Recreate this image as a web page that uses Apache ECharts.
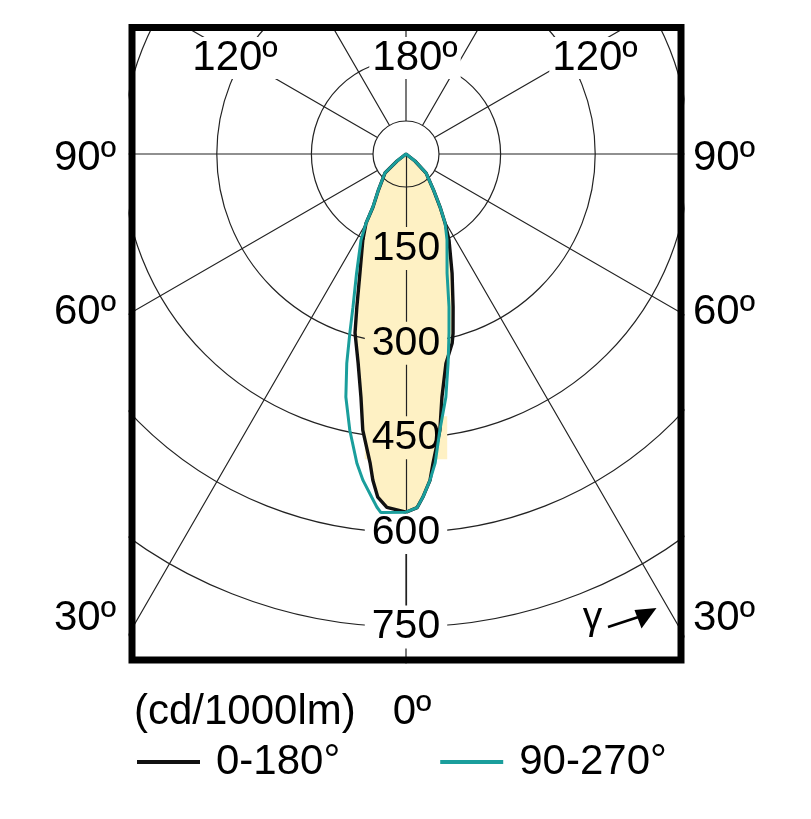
<!DOCTYPE html>
<html>
<head>
<meta charset="utf-8">
<script src="https://cdn.jsdelivr.net/npm/echarts@6/dist/echarts.min.js"></script>
<style>
  html, body { margin: 0; padding: 0; background: #fff; }
  #chart { width: 811px; height: 819px; }
</style>
</head>
<body>
<div id="chart"></div>
<script>
// C0-C180 plane (black), angle in degrees from nadir, value in cd/1000lm
const c0Angle = [0, 1.8, 2.8, 4.2, 5, 7, 8.4, 10.8, 13.7, 14.7, 17.1, 21.1, 26.5, 29.5, 32.7, 37.4, 46.5, 52, 60,
                 120, 180, 240, 300, 308, 312.1, 322.6, 328.1, 330, 333.4, 338.9, 342.2, 344.1, 347.1, 349.5,
                 351.1, 353.4, 354.2, 355.3, 356.9, 360];
const c0Value = [568, 561, 545, 519, 492, 441, 390, 338, 309, 294, 254, 203, 153, 126, 100, 72, 44, 18, 0,
                 0, 0, 0, 0, 18, 45, 72, 99, 127, 153, 203, 255, 295, 340, 392,
                 443, 494, 520, 546, 561, 568];
// C90-C270 plane (teal)
const c90Angle = [0, 1.8, 2.8, 4.2, 5.4, 7, 9.3, 11.4, 13.5, 15.7, 19, 25.5, 29.5, 32.7, 37.4, 46.5, 52, 60,
                  120, 180, 240, 300, 308, 312, 322.6, 328, 330, 332.4, 337.5, 340.9, 342.6, 344.2, 346.1,
                  348.5, 351, 352.5, 354.3, 355.3, 356, 360];
const c90Value = [568, 561, 545, 519, 492, 441, 391, 338, 292, 252, 200, 151, 126, 100, 72, 44, 18, 0,
                  0, 0, 0, 0, 18, 45, 72, 99, 127, 154, 205, 257, 298, 345, 397,
                  447, 497, 522, 547, 562, 570, 568];

const radiusTicks = [150, 300, 450, 600, 750];
const sideLabels = ['90º', '60º', '30º'];
const topLabels = ['120º', '180º', '120º'];
const unitLabel = '(cd/1000lm)';
const nadirLabel = '0º';
const seriesNames = ['0-180°', '90-270°'];

const FONT = 'Liberation Sans, Arial, sans-serif';
const CX = 406, CY = 154;
const lobeFill = '#fef1c4';
const teal = '#1a9e9c';
const peak = Math.max(...c0Value);

const chart = echarts.init(document.getElementById('chart'));

const pairs = (vals, angs) => vals.map((v, i) => [v, angs[i]]);

function txt(text, x, y, align, bg) {
  return {
    type: 'text', z: 12,
    style: {
      text: text, x: x, y: y, align: align || 'center', verticalAlign: 'middle',
      fontSize: 42, fontFamily: FONT, fill: '#000',
      backgroundColor: bg || null, padding: bg ? [0, 3] : 0
    }
  };
}

const sideY = [158, 312, 618];
const topX = [235, 415, 595];

const graphics = [
  // white hub in the middle, under the lobe
  { type: 'circle', z: 1, shape: { cx: CX, cy: CY, r: 33 }, style: { fill: '#fff' } },
  { type: 'circle', z: 3, shape: { cx: CX, cy: CY, r: 33 }, style: { fill: null, stroke: '#222', lineWidth: 1.2 } },
  // hide whatever the polar grid draws outside the frame
  { type: 'rect', z: 10, shape: { x: 0, y: 0, width: 128.5, height: 819 }, style: { fill: '#fff' } },
  { type: 'rect', z: 10, shape: { x: 684.5, y: 0, width: 130, height: 819 }, style: { fill: '#fff' } },
  { type: 'rect', z: 10, shape: { x: 0, y: 0, width: 811, height: 24 }, style: { fill: '#fff' } },
  { type: 'rect', z: 10, shape: { x: 0, y: 663.5, width: 811, height: 160 }, style: { fill: '#fff' } },
  { type: 'rect', z: 11, shape: { x: 132, y: 27.5, width: 549, height: 632.5 },
    style: { fill: null, stroke: '#000', lineWidth: 7 } },
  // gamma arrow
  { type: 'text', z: 12, style: { text: 'γ', x: 592.5, y: 618, align: 'center', verticalAlign: 'middle',
      fontSize: 39, fontFamily: FONT, fill: '#000' } },
  { type: 'line', z: 12, shape: { x1: 608, y1: 627, x2: 640, y2: 616.5 }, style: { stroke: '#000', lineWidth: 2.7 } },
  { type: 'polygon', z: 12, shape: { points: [[656.5, 608], [634.5, 610], [641.5, 628.5]] }, style: { fill: '#000' } },
  txt(unitLabel, 134, 712, 'left'),
  txt(nadirLabel, 412, 712)
];
sideLabels.forEach((s, i) => {
  graphics.push(txt(s, 85, sideY[i]));
  graphics.push(txt(s, 724, sideY[i]));
});
topLabels.forEach((s, i) => graphics.push(txt(s, topX[i], 58, 'center', '#fff')));

const option = {
  backgroundColor: '#fff',
  animation: false,
  polar: [
    { center: [CX, CY], radius: [0, 473] },
    { center: [CX, CY], radius: [0, 620] }
  ],
  angleAxis: [
    { polarIndex: 0, type: 'value', min: 0, max: 360, interval: 30, startAngle: 270, clockwise: false,
      axisLine: { show: false }, axisTick: { show: false }, axisLabel: { show: false }, splitLine: { show: false } },
    { polarIndex: 1, type: 'value', min: 0, max: 360, interval: 30, startAngle: 270, clockwise: false, z: 0,
      axisLine: { show: false }, axisTick: { show: false }, axisLabel: { show: false },
      splitLine: { show: true, lineStyle: { color: '#222', width: 1.2 } } }
  ],
  radiusAxis: [
    { polarIndex: 0, type: 'value', min: 0, max: radiusTicks[radiusTicks.length - 1], interval: 150, z: 3,
      axisLine: { show: true, lineStyle: { color: '#222', width: 1.2 } },
      axisTick: { show: false },
      splitLine: { show: true, lineStyle: { color: '#222', width: 1.2 } },
      axisLabel: {
        show: true, margin: 0, align: 'center', verticalAlign: 'middle',
        formatter: v => radiusTicks.indexOf(v) < 0 ? '' : (v < peak ? '{y|' + v + '}' : '{w|' + v + '}'),
        rich: {
          y: { fontSize: 41, fontFamily: FONT, color: '#000', backgroundColor: lobeFill, padding: [1, 7, 1, 7] },
          w: { fontSize: 41, fontFamily: FONT, color: '#000', backgroundColor: '#fff', padding: [1, 7, 1, 7] }
        }
      } },
    { polarIndex: 1, type: 'value', min: 0, max: 1000, show: false,
      axisLine: { show: false }, axisTick: { show: false }, axisLabel: { show: false }, splitLine: { show: false } }
  ],
  legend: {
    data: seriesNames, left: 132, top: 736, icon: 'rect', itemWidth: 63, itemHeight: 4, itemGap: 100, z: 12,
    textStyle: { fontSize: 42, fontFamily: FONT, color: '#000', padding: [0, 0, 0, 11] }
  },
  series: [
    { name: 'lobe', type: 'line', coordinateSystem: 'polar', polarIndex: 0, z: 2,
      data: pairs(c0Value, c0Angle), showSymbol: false, silent: true,
      lineStyle: { width: 0, opacity: 0 }, areaStyle: { color: lobeFill, opacity: 1 } },
    { name: seriesNames[0], type: 'line', coordinateSystem: 'polar', polarIndex: 0, z: 4,
      data: pairs(c0Value, c0Angle), showSymbol: false, color: '#111',
      lineStyle: { color: '#111', width: 3.4 } },
    { name: seriesNames[1], type: 'line', coordinateSystem: 'polar', polarIndex: 0, z: 5,
      data: pairs(c90Value, c90Angle), showSymbol: false, color: teal,
      lineStyle: { color: teal, width: 3 } }
  ],
  graphic: { elements: graphics }
};

chart.setOption(option);
</script>
</body>
</html>
